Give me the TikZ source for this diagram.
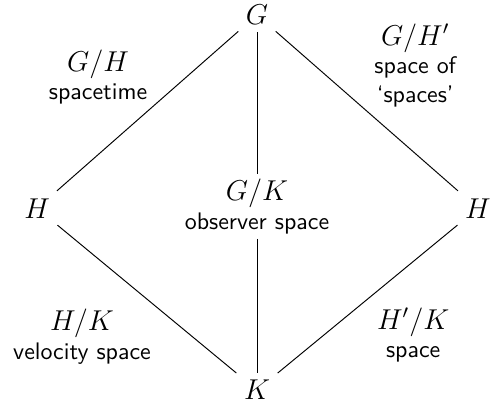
\documentclass[tikz,border=0pt]{standalone}
\newcommand{\mth}[1]{{\large$#1$}}
\begin{document}
\begin{tikzpicture}[
  grp/.style={inner sep=3pt, font=\large},
  quot/.style={align=center, font=\sffamily, inner sep=2pt}]

  %% ---- Frame ----
  \useasboundingbox (0,0) rectangle (7.33,6.01);

  %% ---- Groups ----
  \node[grp] (G)  at (3.775, 5.79) {$G$};
  \node[grp] (Hl) at (0.545, 2.95) {$H$};
  \node[grp] (Hr) at (7.020, 2.95) {$H$};
  \node[grp] (K)  at (3.775, 0.28) {$K$};

  %% ---- Quotients ----
  \node[quot] (GK) at (3.775, 2.98) {\mth{G/K}\\observer space};
  \node[quot] (GH) at (1.44, 4.88) {\mth{G/H}\\spacetime};
  \node[quot] (GHp) at (6.10, 5.05) {\mth{G/H'}\\space of\\`spaces'};
  \node[quot] (HK) at (1.205, 1.06) {\mth{H/K}\\velocity space};
  \node[quot] (HpK) at (6.07, 1.09) {\mth{H'/K}\\space};

  %% ---- Inclusions ----
  \draw (G) -- (Hl);
  \draw (G) -- (Hr);
  \draw (Hl) -- (K);
  \draw (Hr) -- (K);
  \draw (G) -- (GK);
  \draw (GK) -- (K);

\end{tikzpicture}
\end{document}
